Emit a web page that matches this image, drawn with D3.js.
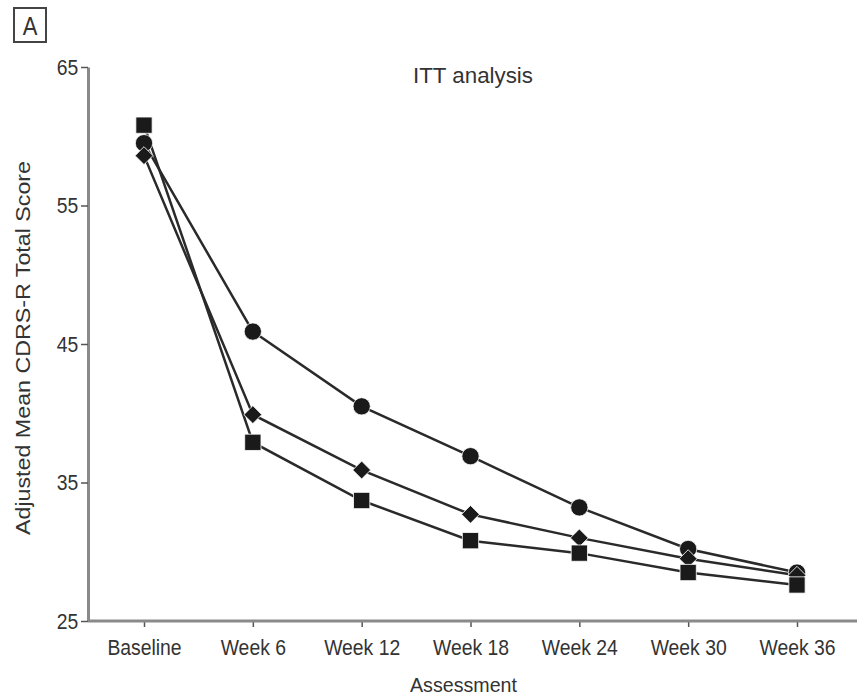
<!DOCTYPE html>
<html>
<head>
<meta charset="utf-8">
<script src="https://cdn.jsdelivr.net/npm/d3@7"></script>
<style>
  body { margin: 0; background: #fff; }
  text { font-family: "Liberation Sans", Arial, sans-serif; fill: #333; }
</style>
</head>
<body>
<svg id="chart" width="857" height="699"></svg>
<script>
// assessments along the x axis
const visits = ["Baseline", "Week 6", "Week 12", "Week 18", "Week 24", "Week 30", "Week 36"]
const yTicks = [25, 35, 45, 55, 65]
// adjusted mean CDRS-R total scores
const circleVals  = [59.5, 45.9, 40.5, 36.9, 33.2, 30.2, 28.5]
const diamondVals = [58.6, 39.9, 35.9, 32.7, 31.0, 29.5, 28.3]
const squareVals  = [60.8, 37.9, 33.7, 30.8, 29.9, 28.5, 27.6]

const margin = {top: 67, right: 0, bottom: 78, left: 88}
const width = 857 - margin.left - margin.right,
      height = 699 - margin.top - margin.bottom

let svg = d3.select("#chart")
let chart = svg.append("g")
    .attr("transform", "translate(" + margin.left + "," + margin.top + ")")

let x = d3.scalePoint()
    .domain(visits)
    .range([56, 709])

let y = d3.scaleLinear()
    .domain([25, 65])
    .range([height, 0])

// axes
let yAxis = chart.append("g")
    .call(d3.axisLeft(y).tickValues(yTicks).tickSize(7).tickSizeOuter(0).tickPadding(4))
let xAxis = chart.append("g")
    .attr("transform", "translate(0," + height + ")")
    .call(d3.axisBottom(x).tickSize(6).tickPadding(12))
xAxis.select(".domain").remove()
xAxis.append("line")
    .attr("x1", 0).attr("x2", width)
    .attr("stroke", "#8a8a8a").attr("stroke-width", 3)
yAxis.select(".domain").attr("stroke", "#8a8a8a").attr("stroke-width", 3)
chart.selectAll(".tick line").attr("stroke", "#555").attr("stroke-width", 1.5)
// narrow the tick labels, the print uses a condensed face
chart.selectAll(".tick text")
    .style("font-size", "22px")
    .attr("fill", "#333")
    .attr("transform", "scale(0.88,1)")

// series: lines first, then markers on top
let series = [
  {vals: circleVals, shape: d3.symbolCircle, size: 235, rot: 0},
  {vals: diamondVals, shape: d3.symbolSquare, size: 160, rot: 45},
  {vals: squareVals, shape: d3.symbolSquare, size: 265, rot: 0}
]

let line = d3.line()
    .x(function(d, i){ return x(visits[i]) })
    .y(function(d){ return y(d) })

series.forEach(function(s){
  chart.append("path")
      .attr("d", line(s.vals))
      .attr("fill", "none")
      .attr("stroke", "#2a2a2a")
      .attr("stroke-width", 2.5)
})
series.forEach(function(s){
  chart.selectAll(null)
      .data(s.vals)
      .enter().append("path")
      .attr("transform", function(d, i){
        return "translate(" + x(visits[i]) + "," + y(d) + ") rotate(" + s.rot + ")"
      })
      .attr("d", d3.symbol().type(s.shape).size(s.size))
      .attr("fill", "#1a1a1a")
      .attr("stroke", "#fff")
      .attr("stroke-width", 0.8)
})

// titles, stretched to the widths seen in the print
svg.append("text")
    .attr("x", 413).attr("y", 83)
    .style("font-size", "22px")
    .attr("textLength", 120).attr("lengthAdjust", "spacingAndGlyphs")
    .text("ITT analysis")
svg.append("text")
    .attr("x", 410).attr("y", 692)
    .style("font-size", "21px")
    .attr("textLength", 107).attr("lengthAdjust", "spacingAndGlyphs")
    .text("Assessment")
svg.append("text")
    .attr("transform", "translate(30,535) rotate(-90)")
    .style("font-size", "21px")
    .attr("textLength", 374).attr("lengthAdjust", "spacingAndGlyphs")
    .text("Adjusted Mean CDRS-R Total Score")

// panel letter
svg.append("rect")
    .attr("x", 14).attr("y", 8).attr("width", 32).attr("height", 34)
    .attr("fill", "none").attr("stroke", "#444").attr("stroke-width", 2)
svg.append("text")
    .attr("x", 30).attr("y", 35)
    .attr("text-anchor", "middle")
    .attr("transform", "translate(3.6,0) scale(0.88,1)")
    .style("font-size", "25px")
    .text("A")
</script>
</body>
</html>
